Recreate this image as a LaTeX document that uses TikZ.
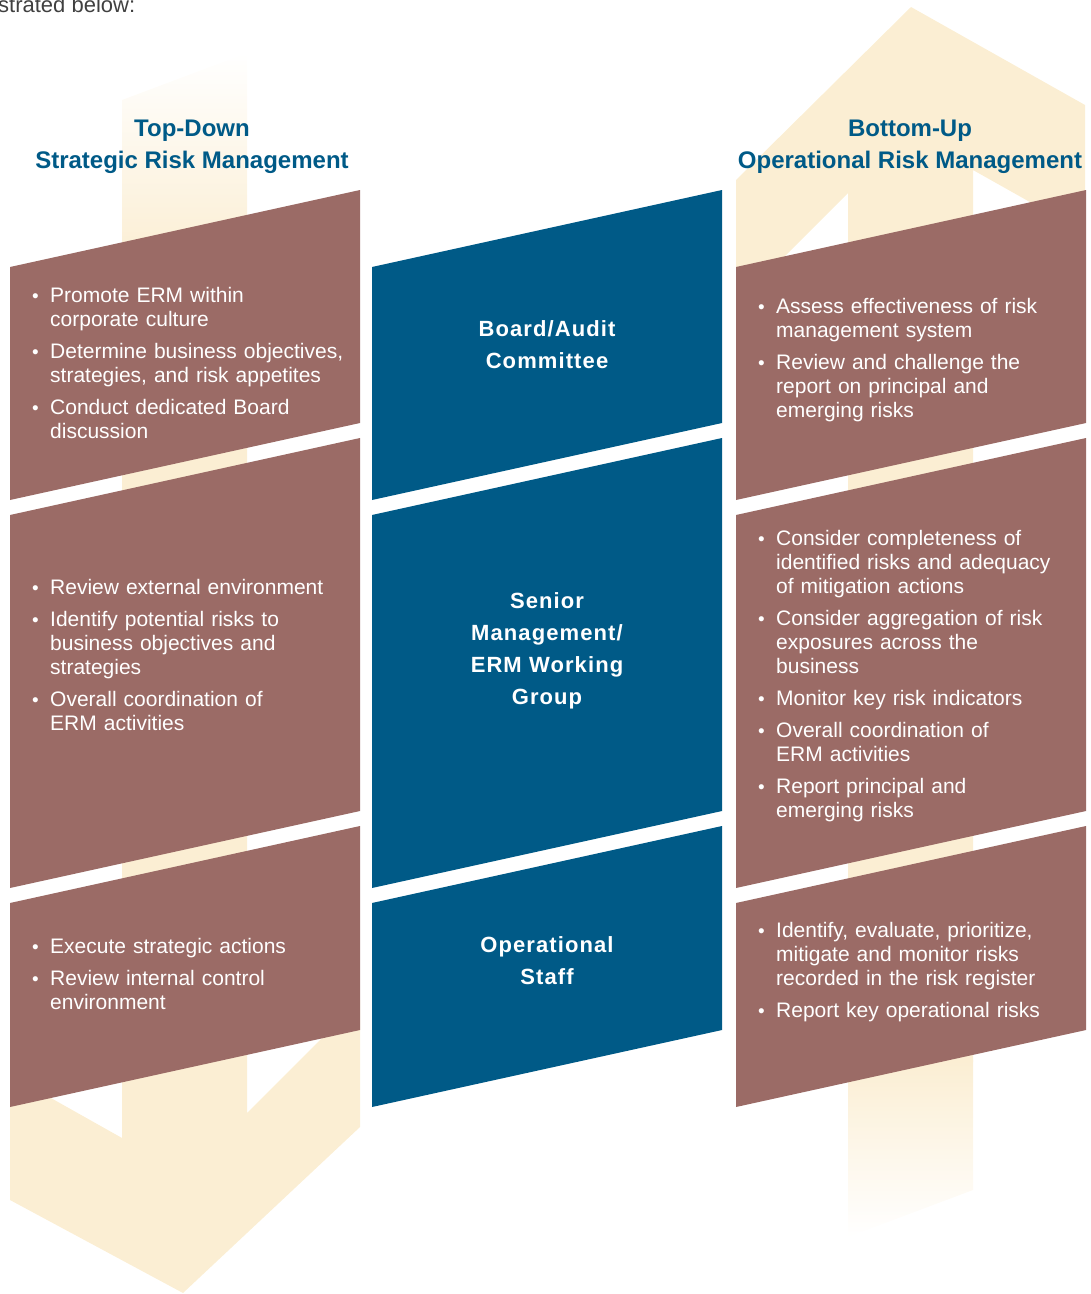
\documentclass[tikz,border=0pt]{standalone}
\usepackage{fontspec}
\setmainfont{Liberation Sans}
\usepackage{tikz}
\usetikzlibrary{positioning}

\definecolor{ermbrown}{HTML}{9B6B66}
\definecolor{ermblue}{HTML}{005A87}
\definecolor{ermcream}{HTML}{FBEED3}
\definecolor{ermgrey}{HTML}{404040}

% one bullet point with hanging lines (break lines with \newline)
\newcommand{\ermitem}[1]{\par\hangindent=18pt\hangafter=1\noindent\makebox[18pt][l]{\raisebox{0.5pt}{\scalebox{0.9}{\textbullet}}}#1\par}
% slanted panel: left x, top-left y, height, colour
\newcommand{\slab}[4]{\fill[#4] (#1,#2) -- ++(350,-77) -- ++(0,#3) -- ++(-350,77) -- cycle;}

\begin{document}
\begin{tikzpicture}[x=1pt,y=-1pt,
  bullets/.style={anchor=west, text width=320pt, align=left, text=white, inner sep=0pt,
    font={\fontsize{21}{24}\selectfont}, execute at begin node={\setlength{\parskip}{8pt}}},
  tier/.style={align=center, text=white, inner sep=0pt,
    font={\fontsize{22}{32}\selectfont\bfseries\addfontfeature{LetterSpace=5}}},
  heading/.style={align=center, text=ermblue, inner sep=0pt,
    font={\fontsize{24}{32}\selectfont\bfseries}}]
\useasboundingbox (0,0) rectangle (1091,1294);

\node[anchor=base west, inner sep=0pt, text=ermgrey, font={\fontsize{22}{24}\selectfont}] (intro) at (-2,12) {strated below:};

% background arrows
\shade[top color=white, bottom color=ermcream] (122,100) -- (247,53) -- (247,262) -- (122,262) -- cycle;
\fill[ermcream] (122,260) -- (247,260) -- (247,1113) -- (360,1000) -- (360,1127) -- (183,1293)
  -- (10,1200) -- (10,1075) -- (122,1138) -- cycle;
\fill[ermcream] (848,1062) -- (848,193) -- (736,305) -- (736,180) -- (911,7) -- (1085,105)
  -- (1085,233) -- (973,170) -- (973,1062) -- cycle;
\shade[top color=ermcream, bottom color=white] (848,1060) -- (973,1060) -- (973,1190) -- (848,1237) -- cycle;

% panels
\foreach \x/\c in {10/ermbrown,372/ermblue,736/ermbrown}{
  \slab{\x}{267}{233}{\c}
  \slab{\x}{515}{373}{\c}
  \slab{\x}{903}{204}{\c}
}

\node[heading] (topdown) at (192,147) {Top-Down\\Strategic Risk Management};
\node[heading] (bottomup) at (910,147) {Bottom-Up\\Operational Risk Management};

\node[tier] (board) at (547,345) {Board/Audit\\Committee};
\node[tier] (senior) at (547,651) {Senior\\Management/\\ERM Working\\Group};
\node[tier] (staff) at (547,961) {Operational\\Staff};

\node[bullets] (td1) at (32,355) {%
  \ermitem{Promote ERM within\newline corporate culture}
  \ermitem{Determine business objectives,\newline strategies, and risk appetites}
  \ermitem{Conduct dedicated Board\newline discussion}};
\node[bullets] (td2) at (32,647) {%
  \ermitem{Review external environment}
  \ermitem{Identify potential risks to\newline business objectives and\newline strategies}
  \ermitem{Overall coordination of\newline ERM activities}};
\node[bullets] (td3) at (32,966) {%
  \ermitem{Execute strategic actions}
  \ermitem{Review internal control\newline environment}};

\node[bullets] (bu1) at (758,352) {%
  \ermitem{Assess effectiveness of risk\newline management system}
  \ermitem{Review and challenge the\newline report on principal and\newline emerging risks}};
\node[bullets] (bu2) at (758,668) {%
  \ermitem{Consider completeness of\newline identified risks and adequacy\newline of mitigation actions}
  \ermitem{Consider aggregation of risk\newline exposures across the\newline business}
  \ermitem{Monitor key risk indicators}
  \ermitem{Overall coordination of\newline ERM activities}
  \ermitem{Report principal and\newline emerging risks}};
\node[bullets] (bu3) at (758,964) {%
  \ermitem{Identify, evaluate, prioritize,\newline mitigate and monitor risks\newline recorded in the risk register}
  \ermitem{Report key operational risks}};
\end{tikzpicture}
\end{document}
